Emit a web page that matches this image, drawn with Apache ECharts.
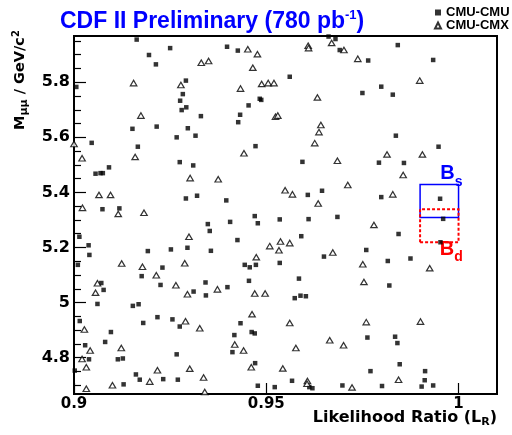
<!DOCTYPE html>
<html><head><meta charset="utf-8">
<script src="https://cdn.jsdelivr.net/npm/echarts@6/dist/echarts.min.js"></script>
<style>html,body{margin:0;padding:0;background:#fff}#c{width:512px;height:435px}</style>
</head><body><div id="c"></div>
<script>
// CMU-CMU events [likelihood ratio, dimuon mass GeV/c^2]
const cmuCmu = [
[0.9163,5.955],[0.9250,5.924],[0.9195,5.899],[0.9213,5.865],[0.9006,5.783],[0.9291,5.806],
[0.9283,5.757],[0.9276,5.733],[0.9292,5.709],[0.9280,5.699],[0.9330,5.677],[0.9215,5.639],
[0.9152,5.631],[0.9296,5.633],[0.9267,5.600],[0.9316,5.606],[0.9046,5.580],[0.9166,5.566],
[0.9275,5.510],[0.9310,5.498],[0.9056,5.468],[0.9069,5.470],[0.9075,5.470],[0.9091,5.491],
[0.9291,5.378],[0.9320,5.388],[0.9074,5.339],[0.9118,5.342],
[0.9398,5.929],[0.9426,5.915],[0.9662,5.966],[0.9680,5.957],[0.9691,5.917],[0.9561,5.820],
[0.9483,5.740],[0.9487,5.736],[0.9454,5.716],[0.9432,5.682],[0.9427,5.655],[0.9472,5.568],
[0.9594,5.511],[0.9645,5.406],[0.9608,5.391],[0.9396,5.371],
[0.9842,5.935],[0.9765,5.879],[0.9934,5.881],[0.9799,5.784],[0.9750,5.761],[0.9829,5.755],
[0.9837,5.606],[0.9948,5.566],[0.9793,5.508],[0.9858,5.507],[0.9799,5.383],[0.9952,5.377],
[0.9014,5.239],[0.9038,5.208],[0.9040,5.173],[0.9010,5.137],[0.9192,5.187],[0.9252,5.193],
[0.9295,5.199],[0.9230,5.127],[0.9176,5.096],[0.9071,5.071],[0.9077,5.046],[0.9225,5.064],
[0.9342,5.073],[0.9311,5.040],[0.9343,5.026],[0.9061,4.995],[0.9153,4.988],[0.9168,4.994],
[0.9015,4.933],[0.9180,4.926],[0.9217,4.947],[0.9256,4.939],[0.9275,4.913],[0.9096,4.893],
[0.9081,4.857],[0.9029,4.845],[0.9039,4.794],[0.9114,4.794],[0.9127,4.797],[0.9267,4.812],
[0.9002,4.753],[0.9161,4.739],[0.9171,4.720],[0.9232,4.722],[0.9270,4.720],[0.9129,4.703],
[0.9470,5.314],[0.9478,5.288],[0.9406,5.293],[0.9348,5.285],[0.9353,5.260],[0.9535,5.302],
[0.9610,5.303],[0.9685,5.311],[0.9425,5.227],[0.9591,5.241],[0.9356,5.188],[0.9444,5.137],
[0.9457,5.128],[0.9473,5.137],[0.9535,5.144],[0.9650,5.167],[0.9399,5.056],[0.9455,5.079],
[0.9585,5.087],[0.9574,5.016],[0.9589,5.025],[0.9603,5.023],[0.9433,4.925],[0.9417,4.882],
[0.9462,4.893],[0.9470,4.888],[0.9412,4.820],[0.9471,4.780],[0.9478,4.698],[0.9522,4.693],
[0.9567,4.716],[0.9612,4.693],[0.9620,4.689],[0.9698,4.699],
[0.9960,5.304],[0.9953,5.219],[0.9844,5.249],[0.9760,5.191],[0.9816,5.151],[0.9875,5.160],
[0.9820,5.062],[0.9763,4.873],[0.9835,4.876],[0.9841,4.853],[0.9847,4.776],[0.9771,4.751],
[0.9913,4.751],[0.9912,4.718],[0.9801,4.697],[0.9904,4.695],[0.9934,4.699]
];
// CMU-CMX events
const cmuCmx = [
[0.9331,5.871],[0.9350,5.877],[0.9155,5.797],[0.9278,5.790],[0.9174,5.679],[0.9000,5.576],
[0.9021,5.524],[0.9159,5.529],[0.9302,5.452],[0.9065,5.391],[0.9095,5.391],[0.9022,5.344],
[0.9115,5.322],[0.9182,5.326],
[0.9452,5.920],[0.9477,5.902],[0.9465,5.853],[0.9609,5.933],[0.9610,5.924],[0.9670,5.943],
[0.9702,5.917],[0.9488,5.794],[0.9505,5.797],[0.9520,5.797],[0.9433,5.777],[0.9633,5.745],
[0.9524,5.675],[0.9530,5.679],[0.9642,5.645],[0.9637,5.619],[0.9626,5.579],[0.9442,5.542],
[0.9685,5.515],[0.9375,5.448],[0.9549,5.408],[0.9568,5.393],[0.9635,5.360],[0.9712,5.427],
[0.9738,5.885],[0.9899,5.806],[0.9814,5.538],[0.9906,5.538],[0.9856,5.463],[0.9829,5.393],
[0.9299,5.239],[0.9124,5.142],[0.9178,5.130],[0.9288,5.143],[0.9214,5.099],[0.9061,5.070],
[0.9056,5.036],[0.9265,5.063],[0.9295,5.030],[0.9027,4.902],[0.9290,4.932],[0.9327,4.907],
[0.9123,4.835],[0.9042,4.826],[0.9021,4.795],[0.9032,4.765],[0.9217,4.754],[0.9301,4.760],
[0.9197,4.713],[0.9337,4.728],[0.9100,4.700],[0.9032,4.687],[0.9340,4.675],
[0.9509,5.205],[0.9537,5.222],[0.9533,5.190],[0.9561,5.216],[0.9673,5.182],[0.9474,5.165],
[0.9373,5.048],[0.9470,5.033],[0.9497,5.033],[0.9463,4.958],[0.9561,4.926],[0.9418,4.848],
[0.9441,4.826],[0.9577,4.835],[0.9665,4.863],[0.9701,4.845],[0.9461,4.765],[0.9543,4.761],
[0.9607,4.715],[0.9606,4.705],
[0.9780,5.282],[0.9751,5.139],[0.9925,5.125],[0.9754,5.075],[0.9760,4.929],[0.9901,4.931],
[0.9844,4.720],[0.9723,4.692]
];
const seriesNames = ['CMU-CMU', 'CMU-CMX'];
const xRange = [0.9, 1.01];
const yRange = [4.668, 5.968];
const xTicks = [0.9, 0.95, 1];
const yTicks = [4.8, 5, 5.2, 5.4, 5.6, 5.8];
const yMinorTicks = [4.7,4.75,4.85,4.9,4.95,5.05,5.1,5.15,5.25,5.3,5.35,5.45,5.5,5.55,5.65,5.7,5.75,5.85,5.9,5.95];
// signal windows [xFrom, xTo, yFrom, yTo]
const bsWindow = [0.99, 1.0, 5.309, 5.429];
const bdWindow = [0.99, 1.0, 5.219, 5.339];

const fmt = v => String(+(+v).toFixed(3));
const tickFont = {fontFamily: 'DejaVu Sans', fontWeight: 'bold', color: '#000'};
function bLabel(color, pos, dist, off, sub) {
  return {
    show: true, position: pos, distance: dist, offset: off,
    formatter: '{big|B}{sml|' + sub + '}',
    rich: {
      big: {fontFamily: 'Liberation Sans', fontWeight: 'bold', fontSize: 20, lineHeight: 20, color: color, padding: [0,0,5,0], verticalAlign: 'bottom'},
      sml: {fontFamily: 'Liberation Sans', fontWeight: 'bold', fontSize: 14, lineHeight: 14, color: color, verticalAlign: 'bottom'}
    }
  };
}
const chart = echarts.init(document.getElementById('c'), null, {renderer: 'canvas'});
chart.setOption({
  animation: false,
  backgroundColor: '#fff',
  title: {
    text: '{a|CDF II Preliminary (780 pb}{s|-1}{a|)}',
    left: 60, top: 9, padding: 0,
    textStyle: {
      rich: {
        a: {fontFamily: 'Liberation Sans', fontWeight: 'bold', fontSize: 23, lineHeight: 24, color: '#0000ff', verticalAlign: 'bottom'},
        s: {fontFamily: 'Liberation Sans', fontWeight: 'bold', fontSize: 13, lineHeight: 13, color: '#0000ff', verticalAlign: 'top'}
      }
    }
  },
  legend: {
    orient: 'vertical', left: 434, top: 6, padding: 0, itemGap: 0,
    itemWidth: 6, itemHeight: 6,
    textStyle: {fontFamily: 'Liberation Sans', fontWeight: 'bold', fontSize: 13, lineHeight: 12, color: '#000'},
    data: [{name: seriesNames[0], icon: 'rect'}, {name: seriesNames[1], icon: 'triangle'}]
  },
  grid: {left: 74, right: 15, top: 36, bottom: 41, show: true, borderColor: '#000', borderWidth: 2, backgroundColor: 'transparent'},
  xAxis: {
    type: 'value', min: xRange[0], max: xRange[1],
    axisLine: {show: true, lineStyle: {color: '#000', width: 2}},
    axisTick: {show: true, inside: true, length: 11, customValues: xTicks, lineStyle: {color: '#000', width: 1.2}},
    axisLabel: Object.assign({customValues: xTicks, margin: 3, fontSize: 15, formatter: fmt}, tickFont),
    splitLine: {show: false}
  },
  yAxis: [
    {
      type: 'value', min: yRange[0], max: yRange[1], position: 'left',
      axisLine: {show: true, lineStyle: {color: '#000', width: 2}},
      axisTick: {show: true, inside: true, length: 12, customValues: yTicks, lineStyle: {color: '#000', width: 1.2}},
      axisLabel: Object.assign({customValues: yTicks, margin: 4, fontSize: 16, formatter: fmt}, tickFont),
      splitLine: {show: false}
    },
    {
      type: 'value', min: yRange[0], max: yRange[1], position: 'left', offset: 0,
      axisLine: {show: false},
      axisTick: {show: true, inside: true, length: 7, customValues: yMinorTicks, lineStyle: {color: '#000', width: 1.2}},
      axisLabel: {show: false},
      splitLine: {show: false}
    }
  ],
  graphic: [
    {
      type: 'text', x: 20, y: 80, rotation: Math.PI / 2,
      style: {
        text: '{m|M}{sub|μμ}{m| / GeV/c}{sup|2}', align: 'center', verticalAlign: 'middle',
        rich: {
          m: {fill: '#000', fontFamily: 'DejaVu Sans', fontWeight: 'bold', fontSize: 14.5, lineHeight: 15, verticalAlign: 'middle'},
          sub: {fill: '#000', fontFamily: 'DejaVu Sans', fontWeight: 'bold', fontSize: 11, lineHeight: 11, padding: [8,0,0,0], verticalAlign: 'middle'},
          sup: {fill: '#000', fontFamily: 'DejaVu Sans', fontWeight: 'bold', fontSize: 10, lineHeight: 10, padding: [0,0,8,0], verticalAlign: 'middle'}
        }
      }
    },
    {
      type: 'text', x: 497, y: 418,
      style: {
        text: '{m|Likelihood Ratio (L}{sub|R}{m|)}', align: 'right', verticalAlign: 'middle',
        rich: {
          m: {fill: '#000', fontFamily: 'DejaVu Sans', fontWeight: 'bold', fontSize: 16, lineHeight: 16, verticalAlign: 'middle'},
          sub: {fill: '#000', fontFamily: 'DejaVu Sans', fontWeight: 'bold', fontSize: 11, lineHeight: 11, padding: [8,0,0,0], verticalAlign: 'middle'}
        }
      }
    }
  ],
  series: [
    {
      name: seriesNames[0], type: 'scatter', data: cmuCmu, symbol: 'rect', symbolSize: 4.5,
      itemStyle: {color: '#000'}, silent: true,
      markArea: {
        silent: true,
        data: [
          [{coord: [bsWindow[0], bsWindow[2]], itemStyle: {color: 'rgba(0,0,0,0)', borderColor: '#0000ff', borderWidth: 1.5, borderType: 'solid'},
            label: bLabel('#0000ff', 'top', 0, [12, 5], 's')},
           {coord: [bsWindow[1], bsWindow[3]]}],
          [{coord: [bdWindow[0], bdWindow[2]], itemStyle: {color: 'rgba(0,0,0,0)', borderColor: '#ff0000', borderWidth: 2, borderType: [3, 2]},
            label: bLabel('#ff0000', 'bottom', 1, [12, 0], 'd')},
           {coord: [bdWindow[1], bdWindow[3]]}]
        ]
      }
    },
    {
      name: seriesNames[1], type: 'scatter', data: cmuCmx, symbol: 'triangle', symbolSize: [6.5, 5.5],
      itemStyle: {color: '#fff', borderColor: '#000', borderWidth: 1.2}, silent: true
    }
  ]
});
</script></body></html>
